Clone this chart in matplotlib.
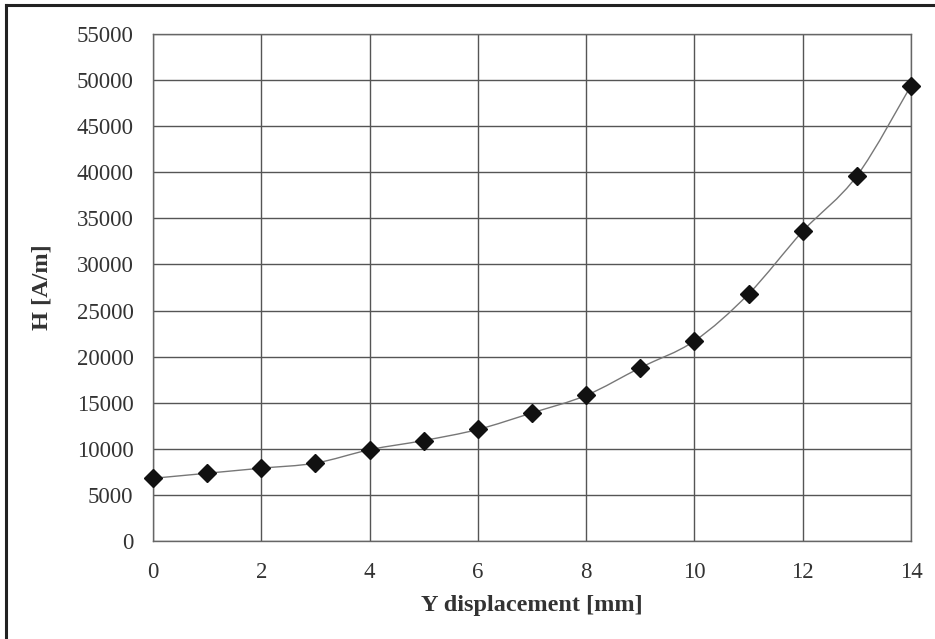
import numpy as np
import matplotlib
matplotlib.use("Agg")
import matplotlib.pyplot as plt
from matplotlib.path import Path
from matplotlib.patches import PathPatch
from matplotlib.lines import Line2D

# Data
displacement_mm = [0, 1, 2, 3, 4, 5, 6, 7, 8, 9, 10, 11, 12, 13, 14]
H_A_per_m = [6800, 7350, 7900, 8450, 9900, 10900, 12100, 13900, 15800,
             18800, 21700, 26800, 33600, 39600, 49400]
x_ticks = [0, 2, 4, 6, 8, 10, 12, 14]
y_ticks = list(range(0, 55001, 5000))
x_label = "Y displacement [mm]"
y_label = "H [A/m]"

plt.rcParams['font.family'] = ['Liberation Serif', 'DejaVu Serif']

fig = plt.figure(figsize=(9.35, 6.39), dpi=100)
ax = fig.add_axes([153/935, 1-541/639, (911-153)/935, (541-34)/639])

# Smoothed line (Excel-style) built as cubic Bezier path through the data points
x = np.asarray(displacement_mm, float)
y = np.asarray(H_A_per_m, float)
verts = [(x[0], y[0])]
codes = [Path.MOVETO]
n = len(x)
for i in range(n - 1):
    p0 = (x[max(i-1, 0)], y[max(i-1, 0)])
    p1 = (x[i], y[i])
    p2 = (x[i+1], y[i+1])
    p3 = (x[min(i+2, n-1)], y[min(i+2, n-1)])
    c1 = (p1[0] + (p2[0]-p0[0])/6, p1[1] + (p2[1]-p0[1])/6)
    c2 = (p2[0] - (p3[0]-p1[0])/6, p2[1] - (p3[1]-p1[1])/6)
    verts += [c1, c2, p2]
    codes += [Path.CURVE4]*3
ax.add_patch(PathPatch(Path(verts, codes), facecolor='none', edgecolor='#777777', lw=1.0, zorder=3))

ax.plot(displacement_mm, H_A_per_m, linestyle='none', marker='D', markersize=9.5,
        color='#111111', zorder=4, clip_on=False)

ax.set_xlim(0, 14)
ax.set_ylim(0, 55000)
ax.set_xticks(x_ticks)
ax.set_yticks(y_ticks)
ax.grid(True, color='#555555', linewidth=1.0)
ax.set_axisbelow(True)
for s in ax.spines.values():
    s.set_color('#666666')
    s.set_linewidth(1.0)
ax.tick_params(length=0, labelsize=16.5, colors='#333333')
ax.tick_params(axis='y', pad=14)
ax.tick_params(axis='x', pad=15)
ax.set_xlabel(x_label, fontsize=17.5, fontweight='bold', color='#333333', labelpad=9)
ax.set_ylabel(y_label, fontsize=17.5, fontweight='bold', color='#333333', labelpad=17)

# partial outer frame (left and top edges)
fig.add_artist(Line2D([5.5/935, 5.5/935], [0, 1-5/639], transform=fig.transFigure, color='#222222', lw=2.2))
fig.add_artist(Line2D([5.5/935, 1], [1-5/639, 1-5/639], transform=fig.transFigure, color='#222222', lw=2.2))

fig.savefig("out.png", dpi=100)
